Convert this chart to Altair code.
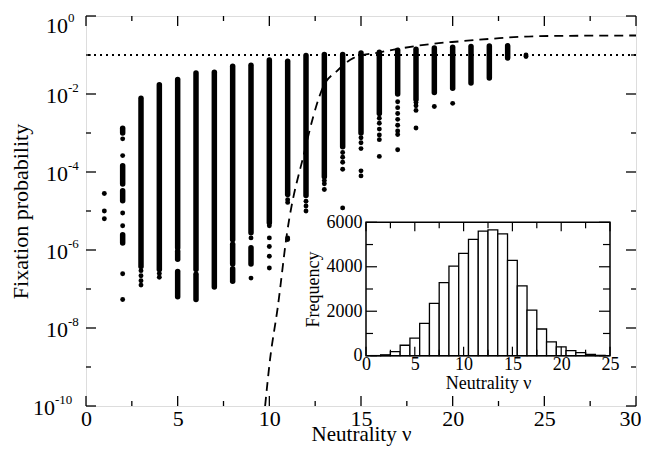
import altair as alt
import pandas as pd

# ---------------- data (exponents = log10 of fixation probability) ----------------
# dense vertical bands of points: neutrality, top exponent, bottom exponent
seg_nu = [2, 2, 2, 2, 3, 4, 5, 5, 5, 6, 6, 7, 8, 8, 8, 9, 9, 10, 11, 12, 13,
          14, 15, 16, 17, 18, 19, 20, 21, 22, 23]
seg_hi = [-2.88, -3.84, -4.48, -5.61, -2.11, -1.76, -1.63, -6.03, -6.55, -1.46, -6.62,
          -1.44, -1.29, -5.85, -6.48, -1.26, -5.94, -1.13, -1.16, -1.01, -0.99,
          -0.99, -0.95, -0.93, -0.88, -0.85, -0.82, -0.80, -0.78, -0.77, -0.76]
seg_lo = [-3.00, -4.31, -4.74, -5.82, -6.42, -6.50, -5.95, -6.24, -7.20, -6.50, -7.27,
          -6.95, -5.74, -6.36, -6.80, -5.56, -6.36, -5.30, -4.58, -4.60, -4.12,
          -3.35, -3.00, -2.50, -2.00, -2.14, -1.96, -1.85, -1.72, -1.59, -1.08]

# isolated points
pt_nu = [1, 1, 1,
         2, 2, 2, 2, 2, 2,
         3, 3, 3, 3,
         4, 4,
         9, 9,
         10, 10, 10, 10, 10,
         11, 11, 11, 11,
         12, 12, 12,
         13, 13, 13,
         14, 14, 14, 14, 14,
         15, 15, 15, 15, 15,
         16, 16, 16, 16, 16, 16,
         17, 17, 17, 17, 17, 17, 17, 17,
         18, 18, 18, 18,
         19, 20, 24, 24]
pt_exp = [-4.55, -5.00, -5.20,
          -3.15, -3.58, -5.05, -5.38, -6.61, -7.27,
          -6.53, -6.66, -6.79, -6.90,
          -6.60, -6.70,
          -5.69, -6.72,
          -5.38, -5.69, -5.91, -6.16, -6.46,
          -4.71, -4.78, -5.69, -5.73,
          -4.75, -4.87, -5.00,
          -4.22, -4.30, -4.45,
          -3.50, -3.62, -3.75, -3.93, -4.92,
          -3.12, -3.25, -3.40, -3.97, -4.10,
          -2.62, -2.75, -2.90, -3.05, -3.17, -3.60,
          -2.20, -2.35, -2.50, -2.65, -2.80, -2.95, -3.04, -3.43,
          -2.22, -2.30, -2.42, -2.87,
          -2.32, -2.24, -1.00, -1.04]

# dashed theoretical curve
curve_nu = [9.77, 10.04, 10.45, 10.97, 11.95, 12.4, 12.95, 13.67, 14.58, 16.02,
            17.31, 18.77, 20.4, 22.22, 24.4, 27.3, 30.0]
curve_exp = [-10.0, -8.8, -7.5, -5.55, -3.42, -2.57, -1.8, -1.42, -1.08, -0.93,
             -0.82, -0.72, -0.65, -0.58, -0.52, -0.505, -0.50]

neutral_level = [0.1]

# inset histogram
hist_nu = list(range(1, 25))
hist_freq = [5, 40, 180, 470, 790, 1450, 2350, 3290, 4030, 4600, 5230, 5600,
             5660, 5480, 4290, 3140, 2050, 1200, 620, 400, 230, 140, 60, 15]

# ticks / labels
main_x_ticks = [0, 2.5, 5, 7.5, 10, 12.5, 15, 17.5, 20, 22.5, 25, 27.5, 30]
main_x_labels = [0, 5, 10, 15, 20, 25, 30]
main_y_tick_exp = [0, -1, -2, -3, -4, -5, -6, -7, -8, -9, -10]
main_y_label_exp = [0, -2, -4, -6, -8, -10]
inset_x_ticks = [0, 2.5, 5, 7.5, 10, 12.5, 15, 17.5, 20, 22.5, 25]
inset_x_labels = [0, 5, 10, 15, 20, 25]
inset_y_ticks = [0, 1000, 2000, 3000, 4000, 5000, 6000]
inset_y_labels = [0, 2000, 4000, 6000]
inset_x_domain = [0, 25]
inset_y_domain = [0, 6000]

# ---------------- layout ----------------
W, H = 550, 390
IX0, IX1 = 280, 524          # inset left / right (px inside plot)
IY0, IY1 = 339.7, 206.3      # inset bottom / top
FONT = "Liberation Serif"

xs = alt.Scale(domain=[0, 30], nice=False, zero=False)
ys = alt.Scale(type="log", domain=[1e-10, 1], nice=False)
ax_x = alt.Axis(values=main_x_labels, ticks=False, tickSize=0, domain=False, grid=False,
                labelFontSize=22, labelPadding=2, labelFont=FONT, labelColor="black",
                labelOffset={"condition": {"test": "datum.value == 30", "value": -6},
                             "value": 0},
                title="Neutrality ν", titleFontSize=21, titleFont=FONT,
                titleFontWeight="normal", titleColor="black", titlePadding=-6,
                labelFlush=False)
ax_y = alt.Axis(labels=False, ticks=False, tickSize=0, domain=False, grid=False,
                title="Fixation probability", titleFontSize=22, titleFont=FONT,
                titleFontWeight="normal", titleColor="black", titlePadding=54)


def mx(f):
    return alt.X(f"{f}:Q", scale=xs, axis=ax_x)


def my(f):
    return alt.Y(f"{f}:Q", scale=ys, axis=ax_y)


seg_df = pd.DataFrame({"nu": seg_nu, "hi": [10 ** e for e in seg_hi],
                       "lo": [10 ** e for e in seg_lo]})
pt_df = pd.DataFrame({"nu": pt_nu, "p": [10 ** e for e in pt_exp]})
curve_df = pd.DataFrame({"nu": curve_nu, "p": [10 ** e for e in curve_exp]})
lvl_df = pd.DataFrame({"p": neutral_level})
mxt_df = pd.DataFrame({"v": main_x_ticks})
myt_df = pd.DataFrame({"e": main_y_tick_exp, "p": [10.0 ** e for e in main_y_tick_exp]})
myl_df = pd.DataFrame({"e": main_y_label_exp, "p": [10.0 ** e for e in main_y_label_exp],
                       "base": ["10"] * len(main_y_label_exp),
                       "es": [str(e) for e in main_y_label_exp]})

K = "black"
layers = []
layers.append(alt.Chart(seg_df).mark_rule(color=K, strokeWidth=5.5, strokeCap="round")
              .encode(x=mx("nu"), y=my("hi"), y2="lo:Q"))
layers.append(alt.Chart(pt_df).mark_circle(color=K, size=24, opacity=1)
              .encode(x=mx("nu"), y=my("p")))
layers.append(alt.Chart(lvl_df).mark_rule(color=K, strokeWidth=2, strokeDash=[2, 4])
              .encode(y=my("p")))
layers.append(alt.Chart(curve_df).mark_line(color=K, strokeWidth=1.8, strokeDash=[9, 6],
                                            interpolate="monotone")
              .encode(x=mx("nu"), y=my("p")))

# main ticks (inward)
for y0, sgn in [(H, -1), (0, 1)]:
    for flt, ln in [("datum.v % 5 == 0", 10), ("datum.v % 5 != 0", 5)]:
        layers.append(alt.Chart(mxt_df).transform_filter(flt)
                      .mark_rule(color=K, strokeWidth=1.3)
                      .encode(x=mx("v"), y=alt.value(y0), y2=alt.value(y0 + sgn * ln)))
for x0, sgn in [(0, 1), (W, -1)]:
    for flt, ln in [("datum.e % 2 == 0", 10), ("datum.e % 2 != 0", 5)]:
        layers.append(alt.Chart(myt_df).transform_filter(flt)
                      .mark_rule(color=K, strokeWidth=1.3)
                      .encode(y=my("p"), x=alt.value(x0), x2=alt.value(x0 + sgn * ln)))

# y labels "10" with superscript exponents
label_groups = [("datum.e == 0", -18, 10, 2),
                ("datum.e < 0 && datum.e > -10", -18, 2, -6),
                ("datum.e <= -10", -31, 2, -6)]
for flt, xo, dyb, dye in label_groups:
    layers.append(alt.Chart(myl_df).transform_filter(flt)
                  .mark_text(font=FONT, fontSize=22, align="right", baseline="middle",
                             dy=dyb, color=K)
                  .encode(y=my("p"), x=alt.value(xo), text="base:N"))
    layers.append(alt.Chart(myl_df).transform_filter(flt)
                  .mark_text(font=FONT, fontSize=13, align="left", baseline="middle",
                             dy=dye, color=K)
                  .encode(y=my("p"), x=alt.value(xo), text="es:N"))

main = alt.layer(*layers)

# ---------------- inset ----------------
ixs = alt.Scale(domain=inset_x_domain, range=[IX0, IX1], nice=False, zero=False)
iys = alt.Scale(domain=inset_y_domain, range=[IY0, IY1], nice=False, zero=False)
ax_ix = alt.Axis(orient="bottom", offset=IY0 - H, values=inset_x_labels, ticks=False,
                 tickSize=0, domain=False, grid=False, labelFontSize=18, labelPadding=0,
                 labelFont=FONT, labelColor=K, labelFlush=False, format="d",
                 title="Neutrality ν", titleFontSize=18, titleFont=FONT,
                 titleFontWeight="normal", titleColor=K, titlePadding=1)
ax_iy = alt.Axis(orient="left", offset=-IX0, values=inset_y_labels, ticks=False,
                 tickSize=0, domain=False, grid=False, labelFontSize=18, labelPadding=4,
                 labelFont=FONT, labelColor=K, labelFlush=False, format="d",
                 title="Frequency", titleFontSize=18, titleFont=FONT,
                 titleFontWeight="normal", titleColor=K, titlePadding=4)


def ix(f):
    return alt.X(f"{f}:Q", scale=ixs, axis=ax_ix)


def iy(f):
    return alt.Y(f"{f}:Q", scale=iys, axis=ax_iy)


box_df = pd.DataFrame({"x0": [inset_x_domain[0]], "x1": [inset_x_domain[1]],
                       "y0": [inset_y_domain[0]], "y1": [inset_y_domain[1]]})
hist_df = pd.DataFrame({"nu": hist_nu, "freq": hist_freq})
ixt_df = pd.DataFrame({"v": inset_x_ticks})
iyt_df = pd.DataFrame({"v": inset_y_ticks})

ilayers = []
ilayers.append(alt.Chart(box_df).mark_rect(fill="white", stroke=K, strokeWidth=1.5)
               .encode(x=ix("x0"), x2="x1:Q", y=iy("y0"), y2="y1:Q"))
ilayers.append(alt.Chart(hist_df)
               .transform_calculate(a="datum.nu - 0.5", b="datum.nu + 0.5", z="0")
               .mark_rect(fill="white", stroke=K, strokeWidth=1.3)
               .encode(x=ix("a"), x2="b:Q", y=iy("freq"), y2="z:Q"))
for y0, sgn in [(IY0, -1), (IY1, 1)]:
    for flt, ln in [("datum.v % 5 == 0", 9), ("datum.v % 5 != 0", 6)]:
        ilayers.append(alt.Chart(ixt_df).transform_filter(flt)
                       .mark_rule(color=K, strokeWidth=1.2)
                       .encode(x=ix("v"), y=alt.value(y0), y2=alt.value(y0 + sgn * ln)))
for x0, sgn in [(IX0, 1), (IX1, -1)]:
    for flt, ln in [("datum.v % 2000 == 0", 11), ("datum.v % 2000 != 0", 7)]:
        ilayers.append(alt.Chart(iyt_df).transform_filter(flt)
                       .mark_rule(color=K, strokeWidth=1.2)
                       .encode(y=iy("v"), x=alt.value(x0), x2=alt.value(x0 + sgn * ln)))

inset = alt.layer(*ilayers)

chart = (alt.layer(main, inset)
         .resolve_scale(x="independent", y="independent")
         .resolve_axis(x="independent", y="independent")
         .properties(width=W, height=H,
                     autosize=alt.AutoSizeParams(type="none"),
                     padding={"left": 78, "top": 8, "right": 5, "bottom": 41})
         .configure_view(stroke=K, strokeWidth=1.5)
         .configure(font=FONT))

chart.save("out.html", embed_options={"renderer": "svg", "actions": False})
